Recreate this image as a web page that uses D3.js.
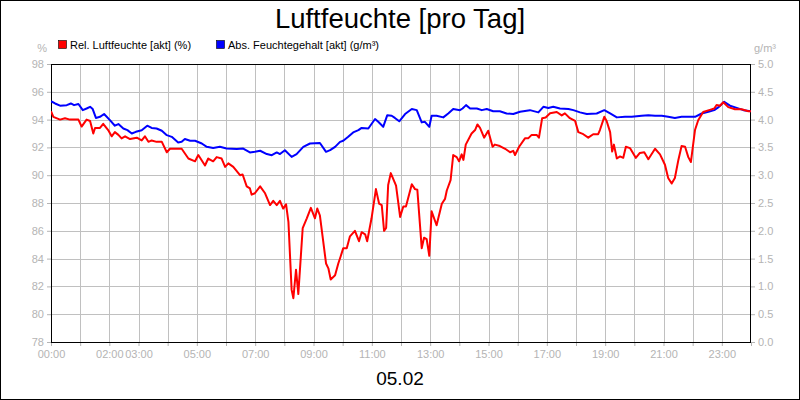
<!DOCTYPE html>
<html><head><meta charset="utf-8">
<script src="https://cdn.jsdelivr.net/npm/d3@7"></script>
<style>
html,body{margin:0;padding:0;background:#fff;}
svg{display:block;font-family:"Liberation Sans",Arial,sans-serif;}
</style></head><body>
<svg id="c" width="800" height="400"></svg>
<script>
// ---- data ----
const title = "Luftfeuchte [pro Tag]";
const dateLabel = "05.02";
const seriesNames = ["Rel. Luftfeuchte [akt] (%)", "Abs. Feuchtegehalt [akt] (g/m³)"];
const xTickLabels = ["00:00","02:00","03:00","05:00","07:00","09:00","11:00","13:00","15:00","17:00","19:00","21:00","23:00"];
const xTickHours = [0,2,3,5,7,9,11,13,15,17,19,21,23];
const leftTicks = [78,80,82,84,86,88,90,92,94,96,98];
const rightTicks = [0,0.5,1,1.5,2,2.5,3,3.5,4,4.5,5];

// relative humidity (%) : hour, value
const relHours = [0,0.08,0.31,0.48,0.65,0.76,0.94,1.05,1.22,1.34,1.45,1.51,1.68,1.79,1.96,2.08,2.19,2.31,2.42,2.54,2.71,2.94,3.11,3.22,3.34,3.45,3.62,3.80,3.97,4.08,4.31,4.48,4.71,4.94,5.05,5.28,5.39,5.56,5.68,5.85,5.97,6.08,6.25,6.48,6.57,6.71,6.82,6.88,6.99,7.17,7.34,7.51,7.62,7.74,7.85,7.96,8.06,8.14,8.25,8.31,8.40,8.48,8.63,8.77,8.91,9.05,9.13,9.22,9.43,9.51,9.59,9.74,9.85,9.93,10.02,10.14,10.25,10.42,10.56,10.65,10.77,10.84,10.99,11.14,11.25,11.34,11.42,11.49,11.56,11.65,11.83,11.97,12.08,12.17,12.37,12.48,12.56,12.71,12.79,12.88,12.97,13.05,13.22,13.40,13.51,13.57,13.70,13.79,13.91,13.99,14.08,14.14,14.22,14.42,14.54,14.62,14.71,14.85,14.99,15.14,15.22,15.39,15.57,15.74,15.85,15.91,16.05,16.25,16.36,16.48,16.65,16.73,16.84,16.96,17.11,17.34,17.51,17.62,17.79,17.97,18.08,18.25,18.42,18.59,18.76,18.82,18.97,19.05,19.17,19.24,19.30,19.40,19.51,19.62,19.71,19.85,20.05,20.19,20.34,20.48,20.71,20.88,21.05,21.16,21.28,21.39,21.51,21.62,21.74,21.85,21.94,22.08,22.19,22.36,22.59,22.74,22.82,22.94,23.05,23.22,23.45,23.68,23.91,24];
const relValues = [94.6,94.2,94.0,94.1,94.0,94.0,94.0,93.5,94.0,93.9,93.0,93.4,93.4,93.7,93.25,92.8,93.1,92.9,92.65,92.8,92.6,92.7,92.5,92.8,92.4,92.5,92.4,92.4,91.65,91.9,91.9,91.9,91.2,91.0,91.45,90.7,91.2,91.0,91.3,91.2,90.6,90.85,90.6,90.0,90.05,89.2,89.05,88.6,88.7,89.2,88.7,87.85,88.15,87.85,88.15,87.6,87.9,86.65,81.75,81.15,83.2,81.45,86.2,86.9,87.65,86.9,87.6,87.1,83.65,83.3,82.5,82.8,83.65,84.15,84.75,84.75,85.6,86.0,85.25,85.9,85.75,85.25,86.9,89.0,87.95,87.85,86.0,86.2,89.3,90.15,89.25,87.0,87.75,87.75,89.35,89.0,88.95,84.75,85.5,85.4,84.2,87.4,86.4,87.95,88.3,88.9,89.65,91.45,91.3,91.0,91.5,91.1,92.2,93.0,93.25,93.65,93.4,92.7,93.2,92.05,92.2,92.1,91.9,91.65,91.75,91.45,92.05,92.65,92.65,92.9,92.9,92.7,94.1,94.15,94.45,94.55,94.3,94.45,94.1,93.9,93.1,92.95,92.7,92.95,92.95,93.25,94.2,93.9,93.1,91.7,92.2,91.2,91.35,91.25,92.05,91.95,91.25,91.6,91.65,91.15,91.9,91.5,90.75,89.8,89.4,89.8,91.1,92.1,92.05,91.3,90.95,93.25,93.95,94.55,94.7,94.8,95.05,95.0,95.25,94.9,94.75,94.75,94.6,94.6];

// absolute humidity (g/m³) : hour, value
const absHours = [0,0.14,0.31,0.54,0.68,0.79,0.94,1.09,1.22,1.34,1.43,1.54,1.68,1.82,2.02,2.19,2.31,2.48,2.62,2.77,2.91,3.11,3.30,3.45,3.62,3.80,3.97,4.14,4.36,4.48,4.59,4.77,4.94,5.17,5.34,5.56,5.79,6.02,6.37,6.59,6.82,6.99,7.17,7.40,7.57,7.74,7.85,8.02,8.25,8.42,8.65,8.88,9.22,9.43,9.57,9.74,9.91,10.02,10.19,10.36,10.54,10.65,10.88,11.11,11.22,11.39,11.53,11.68,11.79,11.94,12.14,12.37,12.54,12.71,12.82,12.97,13.05,13.22,13.45,13.62,13.79,14.02,14.11,14.23,14.37,14.60,14.77,14.94,15.16,15.39,15.62,15.85,16.08,16.42,16.71,16.88,17.05,17.22,17.45,17.74,17.91,18.14,18.37,18.71,18.97,19.17,19.40,19.68,19.91,20.25,20.48,20.71,20.94,21.16,21.39,21.62,21.85,22.08,22.31,22.54,22.74,22.90,23.08,23.28,23.51,23.74,24];
const absValues = [4.33,4.29,4.25,4.26,4.29,4.26,4.28,4.17,4.20,4.23,4.19,4.03,4.05,4.10,3.99,3.89,3.92,3.84,3.81,3.75,3.78,3.81,3.89,3.85,3.84,3.80,3.72,3.69,3.59,3.60,3.65,3.62,3.62,3.57,3.51,3.49,3.51,3.48,3.47,3.48,3.41,3.42,3.44,3.38,3.36,3.41,3.38,3.45,3.33,3.38,3.51,3.57,3.58,3.42,3.45,3.51,3.60,3.62,3.69,3.77,3.81,3.85,3.84,4.01,3.96,3.87,4.08,4.07,4.03,3.97,4.10,4.19,4.17,3.95,3.96,3.87,4.07,4.07,4.04,4.11,4.19,4.17,4.20,4.26,4.20,4.20,4.17,4.19,4.15,4.15,4.11,4.10,4.14,4.17,4.13,4.23,4.21,4.23,4.20,4.19,4.17,4.13,4.10,4.11,4.17,4.11,4.04,4.05,4.05,4.07,4.08,4.07,4.07,4.05,4.03,4.05,4.05,4.05,4.11,4.14,4.17,4.23,4.32,4.25,4.21,4.17,4.15];

// ---- chart ----
const svg = d3.select("#c");
const W = 800, H = 400;
const L = 51, R = 751, T = 64, B = 342;
const gray = "#b4b4b4";

const x = d3.scaleLinear().domain([0,24]).range([L,R]);
const yL = d3.scaleLinear().domain([78,98]).range([B,T]);
const yR = d3.scaleLinear().domain([0,5]).range([B,T]);

svg.append("rect").attr("x",0.5).attr("y",0.5).attr("width",W-1).attr("height",H-1)
  .attr("fill","#fff").attr("stroke","#000");

// grid
const hours = d3.range(0,25);
svg.append("g").selectAll("line").data(hours.slice(1,24)).join("line")
  .attr("x1",d=>Math.round(x(d))+0.5).attr("x2",d=>Math.round(x(d))+0.5)
  .attr("y1",T).attr("y2",B).attr("stroke","#c0c0c0");
svg.append("g").selectAll("line").data(leftTicks.slice(1,-1)).join("line")
  .attr("x1",L).attr("x2",R)
  .attr("y1",d=>Math.round(yL(d))+0.5).attr("y2",d=>Math.round(yL(d))+0.5).attr("stroke","#c0c0c0");

// axes
const labelMap = new Map(xTickHours.map((h,i)=>[h,xTickLabels[i]]));
const ax = svg.append("g").attr("transform",`translate(0,${B})`)
  .call(d3.axisBottom(x).tickValues(hours).tickSize(4).tickSizeOuter(0).tickPadding(4)
    .tickFormat(d=>labelMap.get(d)||""));
const al = svg.append("g").attr("transform",`translate(${L},0)`)
  .call(d3.axisLeft(yL).tickValues(leftTicks).tickSize(4).tickSizeOuter(0).tickPadding(3).tickFormat(d3.format("d")));
const ar = svg.append("g").attr("transform",`translate(${R},0)`)
  .call(d3.axisRight(yR).tickValues(rightTicks).tickSize(4).tickSizeOuter(0).tickPadding(3).tickFormat(d3.format(".1f")));
[ax,al,ar].forEach(g=>{
  g.select(".domain").remove();
  g.selectAll(".tick line").attr("stroke",gray);
  g.selectAll(".tick text").attr("fill",gray).attr("font-size",11)
   .attr("font-family","'Liberation Sans',Arial,sans-serif");
});

// plot frame
svg.append("rect").attr("x",L+0.5).attr("y",T+0.5).attr("width",R-L-1).attr("height",B-T)
  .attr("fill","none").attr("stroke","#000");

// lines
const clip = svg.append("clipPath").attr("id","pc").append("rect")
  .attr("x",L).attr("y",T).attr("width",R-L).attr("height",B-T);
const relData = relHours.map((h,i)=>[h,relValues[i]]);
const absData = absHours.map((h,i)=>[h,absValues[i]]);
svg.append("path").datum(absData).attr("clip-path","url(#pc)")
  .attr("d",d3.line().x(d=>x(d[0])).y(d=>yR(d[1])))
  .attr("fill","none").attr("stroke","#0000ff").attr("stroke-width",2).attr("stroke-linejoin","round");
svg.append("path").datum(relData).attr("clip-path","url(#pc)")
  .attr("d",d3.line().x(d=>x(d[0])).y(d=>yL(d[1])))
  .attr("fill","none").attr("stroke","#ff0000").attr("stroke-width",2).attr("stroke-linejoin","round");

// title & labels
svg.append("text").attr("x",400).attr("y",28).attr("text-anchor","middle")
  .attr("font-size",27.5).attr("fill","#000").text(title);
svg.append("text").attr("x",400).attr("y",385).attr("text-anchor","middle")
  .attr("font-size",19).attr("fill","#000").text(dateLabel);
svg.append("text").attr("x",47).attr("y",52).attr("text-anchor","end")
  .attr("font-size",11).attr("fill",gray).text("%");
svg.append("text").attr("x",754).attr("y",52).attr("text-anchor","start")
  .attr("font-size",11).attr("fill",gray).text("g/m³");

// legend
const colors = ["#ff0000","#0000ff"];
const legX = [58,216];
seriesNames.forEach((n,i)=>{
  svg.append("rect").attr("x",legX[i]+0.5).attr("y",40.5).attr("width",8).attr("height",8)
    .attr("fill",colors[i]).attr("stroke","#000").attr("stroke-width",0.6);
  svg.append("text").attr("x",legX[i]+12).attr("y",48.5).attr("font-size",11)
    .attr("fill","#000").text(n);
});
</script>
</body></html>
